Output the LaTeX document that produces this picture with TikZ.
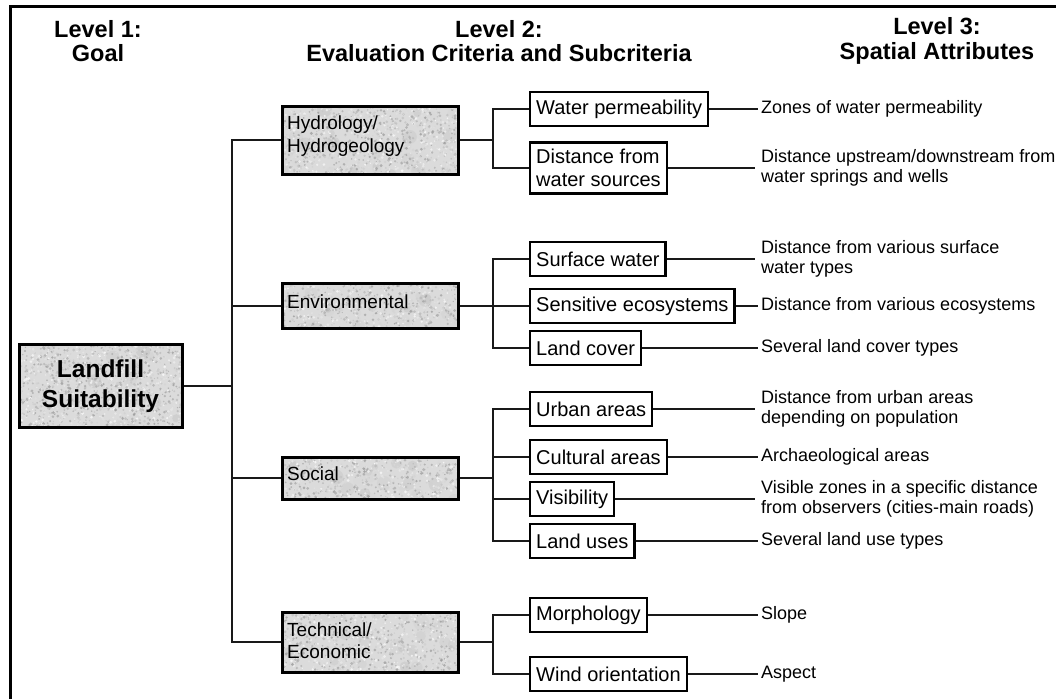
\documentclass[tikz,border=0pt]{standalone}
\usepackage{fontspec}
\setmainfont{Liberation Sans}
\begin{document}
\pgfmathsetseed{7}
\begin{tikzpicture}[x=1pt,y=-1pt,
  conn/.style={line width=1.8pt, black!90},
  hdr/.style={font=\fontsize{23.5}{24.5}\selectfont\bfseries, align=center, inner sep=0pt},
  % speckled stone-like fill, clipped to the node outline
  granite/.style n args={3}{fill=black!14, path picture={
      \foreach \k in {1,...,40}{
        \pgfmathsetmacro\gs{int(10+30*rnd)}
        \pgfmathsetmacro\dr{3+5*rnd}
        \fill[black!\gs, opacity=0.18]
          ([shift={(rand*#2,rand*#3)}]path picture bounding box.center) circle (\dr);
      }
      \foreach \k in {1,...,#1}{
        \pgfmathsetmacro\gs{int(42*rnd)}
        \pgfmathsetmacro\dr{0.6+1.0*rnd}
        \fill[black!\gs, opacity=0.7]
          ([shift={(rand*#2,rand*#3)}]path picture bounding box.center) circle (\dr);
      }}},
  goalbox/.style={draw, line width=3pt, granite={1500}{84}{44},
    minimum width=163pt, minimum height=83pt,
    font=\fontsize{24.5}{30}\selectfont\bfseries, align=center, inner sep=0pt},
  critbox/.style={draw, line width=3pt, granite={1100}{90}{36},
    minimum width=176pt, inner sep=0pt},
  crittext/.style={font=\fontsize{19}{22.5}\selectfont, align=left, inner sep=0pt, anchor=north west},
  subbox/.style={draw, line width=2.4pt, fill=white, font=\fontsize{20}{23}\selectfont,
    align=left, inner xsep=6pt, inner ysep=0pt, minimum height=34pt, anchor=west},
  attr/.style={font=\fontsize{18}{20.5}\selectfont, align=left, inner xsep=3pt, inner ysep=0pt, anchor=west},
]
\useasboundingbox (0,0) rectangle (1056,699);
\fill[white] (0,0) rectangle (1056,699);

% frame
\draw[line width=3pt] (10,699) -- (10,6) -- (1056,6);

% column headings
\node[hdr] (h1) at (98,41) {Level 1:\\Goal};
\node[hdr] (h2) at (499,41) {Level 2:\\Evaluation Criteria and Subcriteria};
\node[hdr] (h3) at (937,41) {Level 3:\\Spatial Attributes};

% level 1: goal
\node[goalbox] (goal) at (100.5,386) {Landfill\\Suitability};

% level 2: criteria
\node[critbox, minimum height=68pt] (hyd) at (370,140) {};
\node[critbox, minimum height=45pt] (env) at (370,306) {};
\node[critbox, minimum height=42pt] (soc) at (370,478) {};
\node[critbox, minimum height=60pt] (tec) at (370,642) {};
\node[crittext] (hydT) at (287,116) {Hydrology/\\Hydrogeology};
\node[crittext] (envT) at (287,294.5) {Environmental};
\node[crittext] (socT) at (287,466.5) {Social};
\node[crittext] (tecT) at (287,622.5) {Technical/\\Economic};

% level 2: subcriteria
\node[subbox] (wp)  at (529,109) {Water permeability};
\node[subbox, minimum height=51pt] (dws) at (529,168) {Distance from\\water sources};
\node[subbox] (sw)  at (529,259) {Surface water};
\node[subbox] (se)  at (529,306) {Sensitive ecosystems};
\node[subbox] (lc)  at (529,348) {Land cover};
\node[subbox] (ua)  at (529,409) {Urban areas};
\node[subbox] (ca)  at (529,457) {Cultural areas};
\node[subbox] (vi)  at (529,499) {Visibility};
\node[subbox] (lu)  at (529,541) {Land uses};
\node[subbox] (mo)  at (529,615) {Morphology};
\node[subbox] (wo)  at (529,674) {Wind orientation};

% level 3: spatial attributes
\node[attr] (zw)  at (758,109) {Zones of water permeability};
\node[attr, inner xsep=6pt] (du)  at (755,168) {Distance upstream/downstream from\\water springs and wells};
\node[attr, inner xsep=6pt] (ds)  at (755,259) {Distance from various surface\\water types};
\node[attr] (de)  at (758,306) {Distance from various ecosystems};
\node[attr] (sl)  at (758,348) {Several land cover types};
\node[attr, inner xsep=6pt] (dua) at (755,409) {Distance from urban areas\\depending on population};
\node[attr] (ar)  at (758,457) {Archaeological areas};
\node[attr, inner xsep=6pt] (vz)  at (755,499) {Visible zones in a specific distance\\from observers (cities-main roads)};
\node[attr] (lt)  at (758,541) {Several land use types};
\node[attr] (slp) at (758,615) {Slope};
\node[attr] (asp) at (758,674) {Aspect};

% junctions
\coordinate (tj) at (232,386);
\coordinate (hj) at (493,140);
\coordinate (ej) at (493,306);
\coordinate (sj) at (493,478);
\coordinate (cj) at (493,642);

% goal to criteria
\draw[conn] (goal.east) -- (tj);
\foreach \c in {hyd,env,soc,tec} \draw[conn] (tj) |- (\c.west);

% criteria to subcriteria
\draw[conn] (hyd.east) -- (hj);
\foreach \s in {wp,dws} \draw[conn] (hj) |- (\s.west);
\draw[conn] (env.east) -- (ej);
\foreach \s in {sw,se,lc} \draw[conn] (ej) |- (\s.west);
\draw[conn] (soc.east) -- (sj);
\foreach \s in {ua,ca,vi,lu} \draw[conn] (sj) |- (\s.west);
\draw[conn] (tec.east) -- (cj);
\foreach \s in {mo,wo} \draw[conn] (cj) |- (\s.west);

% subcriteria to attributes
\foreach \a/\b in {wp/zw,dws/du,sw/ds,se/de,lc/sl,ua/dua,ca/ar,vi/vz,lu/lt,mo/slp,wo/asp}
  \draw[conn] (\a.east) -- (\a.east -| \b.west);
\end{tikzpicture}
\end{document}
